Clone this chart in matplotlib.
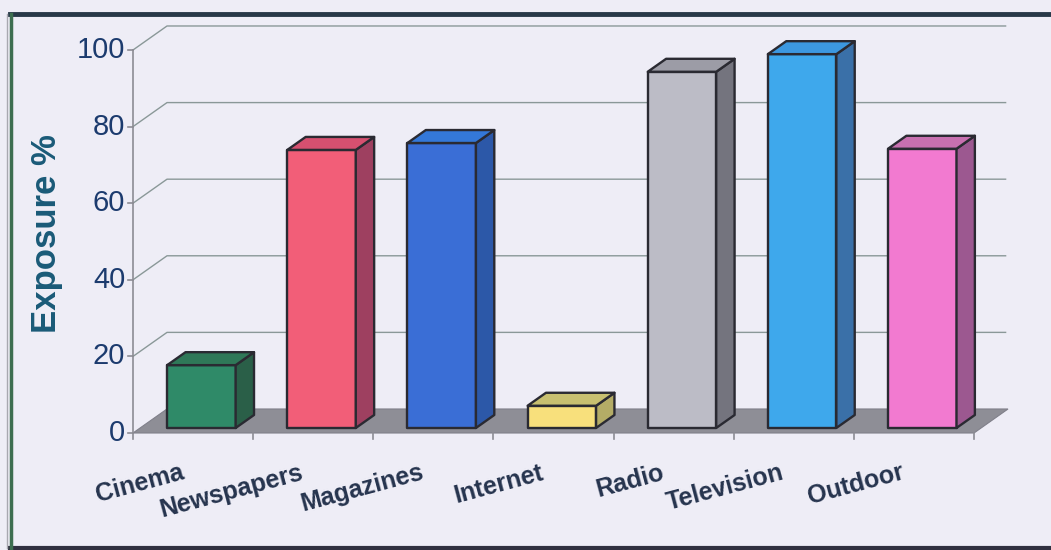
import numpy as np
import matplotlib.pyplot as plt
from matplotlib.patches import Polygon
from matplotlib.lines import Line2D

categories = ['Cinema', 'Newspapers', 'Magazines', 'Internet', 'Radio',
              'Television', 'Outdoor']
exposure = [16.4, 72.6, 74.4, 5.8, 93.0, 97.6, 72.9]
yticks = [0, 20, 40, 60, 80, 100]

front_colors = ['#2f8a68', '#f25e78', '#3a6ed6', '#f8e07c', '#bcbcc6',
                '#3ea8ec', '#f27ad0']
side_colors = ['#2a5f48', '#9e4060', '#2c58a8', '#b4ac66', '#74747e',
               '#3a70a8', '#9c5890']
top_colors = ['#2f7858', '#d65070', '#3478d8', '#c8c070', '#9c9ca6',
              '#3c98e0', '#c870b0']

# depth of the floor in data units (category units, value units)
DX, DY = 0.283, 6.27
# bars sit between these fractions of the floor depth
D0, D1 = 0.21, 0.75
BAR_W = 0.57

fig = plt.figure(figsize=(10.51, 5.5), dpi=100)
fig.patch.set_facecolor('#eeedf6')
ax = fig.add_axes([133 / 1051, 117 / 550, 841 / 1051, 383 / 550])
ax.set_xlim(0, len(categories))
ax.set_ylim(0, 100)
ax.axis('off')

n = len(categories)
grid_c = '#8a9898'

# floor slab
floor = Polygon([(0, 0), (n, 0), (n + DX, DY), (DX, DY)], closed=True,
                facecolor='#8e8e96', edgecolor='#80808a', lw=0.8,
                clip_on=False, zorder=1)
ax.add_patch(floor)

# back wall gridlines and the front value axis
for v in yticks[1:]:
    ax.add_line(Line2D([0, DX, n + DX - 0.02], [v, v + DY, v + DY],
                       color=grid_c, lw=1.0, clip_on=False, zorder=0.5))
ax.add_line(Line2D([0, 0], [0, 100], color='#8c8c94', lw=1.2,
                   clip_on=False, zorder=2))
for v in yticks:
    ax.add_line(Line2D([-0.045, 0], [v, v], color='#8c8c94', lw=1.2,
                       clip_on=False, zorder=2))
    ax.text(-0.065, v, str(v), ha='right', va='center', fontsize=21,
            color='#1c3b6e', family='Liberation Sans')
for i in range(n + 1):
    ax.add_line(Line2D([i, i], [0, -1.5], color='#8c8c94', lw=1.2,
                       clip_on=False, zorder=2))

# 3-D columns: front face, right side, top
ex, ey = (D1 - D0) * DX, (D1 - D0) * DY
for i, v in enumerate(exposure):
    cx = i + 0.51 + D0 * DX
    x0, x1 = cx - BAR_W / 2, cx + BAR_W / 2
    y0 = D0 * DY
    y1 = y0 + v
    kw = dict(closed=True, edgecolor='#2a2a32', lw=1.7, clip_on=False,
              zorder=3, joinstyle='round')
    ax.add_patch(Polygon([(x0, y0), (x1, y0), (x1, y1), (x0, y1)],
                         facecolor=front_colors[i], **kw))
    ax.add_patch(Polygon([(x1, y0), (x1 + ex, y0 + ey), (x1 + ex, y1 + ey),
                          (x1, y1)], facecolor=side_colors[i], **kw))
    ax.add_patch(Polygon([(x0, y1), (x1, y1), (x1 + ex, y1 + ey),
                          (x0 + ex, y1 + ey)], facecolor=top_colors[i], **kw))

# category labels, tilted
for i, name in enumerate(categories):
    ax.text(i + 0.39, -7.2, name, ha='right', va='top', rotation=15,
            rotation_mode='anchor', fontsize=18, fontweight='bold',
            color='#26344e', family='Liberation Sans')

fig.text(47 / 1051, 1 - 234 / 550, 'Exposure %', rotation=90, ha='center',
         va='center', fontsize=25, fontweight='bold', color='#1a5a78',
         family='Liberation Sans')

# chart frame
fig.add_artist(Line2D([10 / 1051, 1], [1 - 14 / 550] * 2, color='#283848',
                      lw=3.5, transform=fig.transFigure))
fig.add_artist(Line2D([10 / 1051, 1], [1 - 548 / 550] * 2, color='#303040',
                      lw=3, transform=fig.transFigure))
fig.add_artist(Line2D([11 / 1051] * 2, [1 - 548 / 550, 1 - 14 / 550],
                      color='#3d6e50', lw=2.5, transform=fig.transFigure))
fig.add_artist(Line2D([7 / 1051] * 2, [1 - 548 / 550, 1 - 14 / 550],
                      color='#a8a8b0', lw=1, transform=fig.transFigure))

fig.savefig('out.png', dpi=100, facecolor=fig.get_facecolor())
